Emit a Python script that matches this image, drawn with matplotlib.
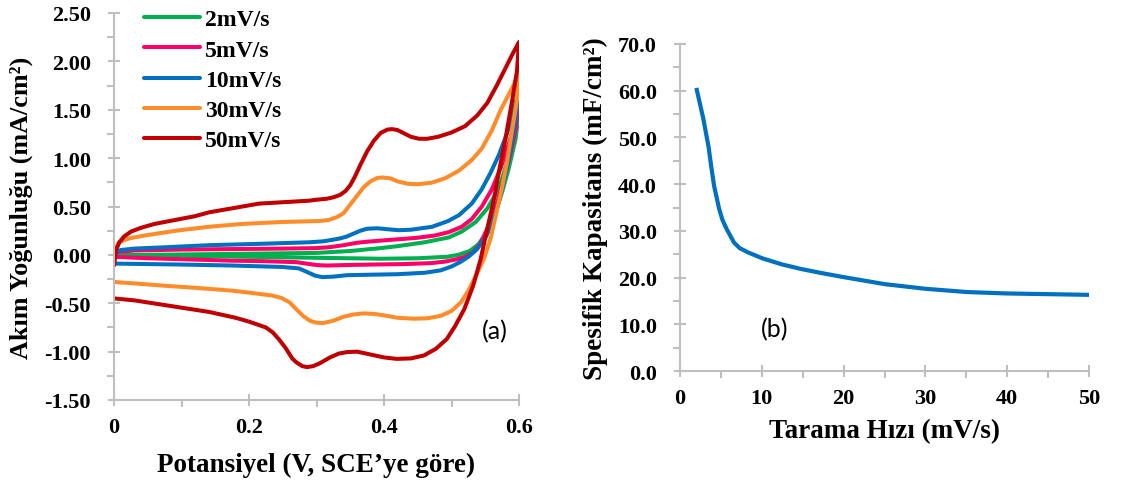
import matplotlib
matplotlib.use("Agg")
import matplotlib.pyplot as plt
from matplotlib.ticker import MultipleLocator, FuncFormatter

plt.rcParams['font.family'] = ['Liberation Serif', 'DejaVu Serif']
plt.rcParams['font.weight'] = 'bold'

# ---------------- data: panel (a) cyclic voltammograms ----------------
scan_labels = ['2mV/s', '5mV/s', '10mV/s', '30mV/s', '50mV/s']
colors = ['#00B050', '#FF0066', '#0070C0', '#FF8C2A', '#C00000']

# 2 mV/s (anodic sweep then cathodic sweep)
e_2 = [0.0, 0.05, 0.175, 0.3, 0.35, 0.395, 0.42, 0.46, 0.496, 0.515, 0.536, 0.553, 0.57,
       0.582, 0.592, 0.6,
       0.595, 0.585, 0.575, 0.565, 0.553, 0.54, 0.527, 0.51, 0.493, 0.45, 0.395, 0.35,
       0.296, 0.2, 0.1, 0.0]
i_2 = [-0.01, 0.0, 0.01, 0.02, 0.04, 0.07, 0.09, 0.13, 0.18, 0.24, 0.34, 0.48, 0.68,
       0.95, 1.2, 1.50,
       1.2, 0.9, 0.65, 0.43, 0.24, 0.11, 0.04, 0.0, -0.02, -0.035, -0.04, -0.035,
       -0.03, -0.02, -0.01, 0.0]

# 5 mV/s
e_5 = [0.0, 0.005, 0.03, 0.1, 0.175, 0.25, 0.3, 0.32, 0.34, 0.36, 0.373, 0.4, 0.447, 0.475,
       0.496, 0.515, 0.53, 0.545, 0.56, 0.573, 0.585, 0.593, 0.6,
       0.595, 0.585, 0.575, 0.565, 0.553, 0.543, 0.533, 0.52, 0.508, 0.49, 0.47, 0.43, 0.38,
       0.345, 0.315, 0.3, 0.285, 0.27, 0.22, 0.175, 0.1, 0.05, 0.0]
i_5 = [0.0, 0.03, 0.045, 0.055, 0.06, 0.065, 0.07, 0.08, 0.10, 0.125, 0.135, 0.15, 0.175, 0.2,
       0.235, 0.29, 0.37, 0.5, 0.68, 0.9, 1.15, 1.35, 1.62,
       1.3, 0.98, 0.72, 0.48, 0.27, 0.12, 0.03, -0.02, -0.045, -0.07, -0.085, -0.095, -0.10,
       -0.105, -0.11, -0.105, -0.09, -0.075, -0.065, -0.06, -0.045, -0.035, -0.02]

# 10 mV/s
e_10 = [0.0, 0.003, 0.01, 0.03, 0.08, 0.14, 0.22, 0.289, 0.31, 0.323, 0.335, 0.345, 0.355,
        0.365, 0.375, 0.39, 0.405, 0.422, 0.44, 0.471, 0.495, 0.511, 0.53, 0.545, 0.558,
        0.57, 0.582, 0.59, 0.6,
        0.595, 0.585, 0.575, 0.565, 0.552, 0.538, 0.525, 0.514, 0.5, 0.484, 0.46, 0.419,
        0.38, 0.345, 0.325, 0.309, 0.298, 0.287, 0.274, 0.25, 0.175, 0.1, 0.05, 0.0]
i_10 = [-0.06, 0.02, 0.05, 0.065, 0.08, 0.10, 0.115, 0.13, 0.14, 0.155, 0.17, 0.19, 0.22,
        0.25, 0.27, 0.275, 0.265, 0.255, 0.26, 0.29, 0.35, 0.41, 0.53, 0.68, 0.85,
        1.03, 1.25, 1.42, 1.72,
        1.4, 1.0, 0.68, 0.42, 0.2, 0.06, -0.02, -0.07, -0.12, -0.16, -0.185, -0.20,
        -0.205, -0.21, -0.225, -0.23, -0.215, -0.18, -0.14, -0.125, -0.11, -0.10, -0.095, -0.09]

# 30 mV/s
e_30 = [0.0, 0.003, 0.007, 0.022, 0.045, 0.092, 0.14, 0.19, 0.25, 0.304, 0.318, 0.33, 0.34,
        0.35, 0.36, 0.37, 0.38, 0.39, 0.398, 0.41, 0.42, 0.435, 0.45, 0.47, 0.49, 0.511,
        0.53, 0.545, 0.56, 0.573, 0.585, 0.593, 0.6,
        0.597, 0.59, 0.582, 0.575, 0.566, 0.558, 0.548, 0.538, 0.525, 0.514, 0.5, 0.484,
        0.465, 0.444, 0.42, 0.4, 0.385, 0.37, 0.355, 0.34, 0.325, 0.31, 0.299, 0.29, 0.28,
        0.27, 0.26, 0.248, 0.234, 0.2, 0.175, 0.12, 0.077, 0.03, 0.0]
i_30 = [0.0, 0.07, 0.13, 0.17, 0.20, 0.25, 0.29, 0.32, 0.34, 0.35, 0.36, 0.39, 0.43,
        0.52, 0.61, 0.70, 0.76, 0.795, 0.80, 0.79, 0.76, 0.735, 0.73, 0.745, 0.79, 0.87,
        0.98, 1.10, 1.29, 1.50, 1.66, 1.77, 1.90,
        1.6, 1.3, 0.95, 0.7, 0.42, 0.17, -0.04, -0.19, -0.37, -0.49, -0.58, -0.63,
        -0.655, -0.66, -0.65, -0.625, -0.61, -0.605, -0.615, -0.64, -0.68, -0.705, -0.70,
        -0.68, -0.63, -0.56, -0.49, -0.445, -0.42, -0.39, -0.37, -0.34, -0.32, -0.295, -0.28]

# 50 mV/s
e_50 = [0.0, 0.003, 0.008, 0.015, 0.025, 0.04, 0.06, 0.09, 0.12, 0.141, 0.215, 0.289, 0.3,
        0.315, 0.325, 0.335, 0.343, 0.35, 0.357, 0.365, 0.375, 0.385, 0.395, 0.405, 0.412,
        0.42, 0.43, 0.44, 0.452, 0.464, 0.48, 0.5, 0.52, 0.538, 0.553, 0.567, 0.58, 0.59, 0.6,
        0.597, 0.59, 0.58, 0.57, 0.563, 0.553, 0.543, 0.532, 0.519, 0.505, 0.493, 0.477,
        0.459, 0.44, 0.419, 0.4, 0.38, 0.36, 0.345, 0.333, 0.32, 0.305, 0.295, 0.286,
        0.279, 0.27, 0.264, 0.254, 0.244, 0.235, 0.225, 0.2, 0.18, 0.141, 0.067, 0.03, 0.0]
i_50 = [-0.11, 0.05, 0.13, 0.19, 0.24, 0.28, 0.32, 0.36, 0.40, 0.44, 0.53, 0.56, 0.57,
        0.58, 0.595, 0.62, 0.66, 0.72, 0.81, 0.93, 1.07, 1.18, 1.26, 1.295, 1.30,
        1.29, 1.255, 1.22, 1.20, 1.20, 1.22, 1.265, 1.33, 1.44, 1.57, 1.75, 1.93, 2.07, 2.2,
        1.9, 1.6, 1.2, 0.85, 0.58, 0.27, -0.05, -0.32, -0.56, -0.74, -0.87, -0.97,
        -1.04, -1.07, -1.075, -1.06, -1.03, -1.0, -1.005, -1.02, -1.06, -1.12, -1.15, -1.16,
        -1.15, -1.11, -1.07, -0.96, -0.87, -0.80, -0.75, -0.69, -0.65, -0.59, -0.51, -0.47, -0.45]

potentials = [e_2, e_5, e_10, e_30, e_50]
currents = [i_2, i_5, i_10, i_30, i_50]

# ---------------- data: panel (b) specific capacitance ----------------
scan_rate = [2.0, 2.4, 2.85, 3.5, 3.8, 4.17, 4.8, 5.2, 5.7, 6.6, 7.3, 8.3, 10.1, 12.5,
             14.9, 17.5, 20.0, 25.0, 30.0, 35.1, 39.9, 45.0, 50.0]
capacitance = [60.6, 57.5, 54.0, 47.9, 44.0, 39.6, 34.6, 32.3, 30.4, 27.5, 26.3, 25.4,
               24.1, 22.8, 21.8, 20.9, 20.1, 18.6, 17.6, 16.9, 16.6, 16.45, 16.3]

# ---------------- figure ----------------
W, H = 1121, 485
fig = plt.figure(figsize=(W / 100, H / 100), dpi=100)

def px_axes(x0, y0, x1, y1):
    return fig.add_axes([x0 / W, 1 - y1 / H, (x1 - x0) / W, (y1 - y0) / H])

ax1 = px_axes(114, 14, 519, 401)
ax2 = px_axes(680, 45, 1089, 372)

spine_col = '#BFBFBF'
tick_fs = 16
label_fs = 19.5

for ax in (ax1, ax2):
    for s in ('top', 'right'):
        ax.spines[s].set_visible(False)
    for s in ('left', 'bottom'):
        ax.spines[s].set_color(spine_col)
        ax.spines[s].set_linewidth(1.5)
    ax.tick_params(which='major', direction='inout', length=9, width=1.5,
                   color=spine_col, labelsize=tick_fs, labelcolor='black')
    ax.tick_params(which='minor', direction='out', length=5, width=1.5,
                   color=spine_col)
    ax.tick_params(axis='y', which='major', pad=12)
    ax.tick_params(axis='x', which='major', pad=8)

# panel (a)
for e, i, c, lab in zip(potentials, currents, colors, scan_labels):
    ax1.plot(e, i, color=c, lw=2.9, label=lab, solid_capstyle='round',
             solid_joinstyle='round')

ax1.set_xlim(0, 0.6)
ax1.set_ylim(-1.5, 2.5)
ax1.xaxis.set_major_locator(MultipleLocator(0.2))
ax1.xaxis.set_minor_locator(MultipleLocator(0.1))
ax1.yaxis.set_major_locator(MultipleLocator(0.5))
ax1.yaxis.set_minor_locator(MultipleLocator(0.25))
ax1.xaxis.set_major_formatter(FuncFormatter(lambda v, p: '0' if abs(v) < 1e-9 else f'{v:.1f}'))
ax1.yaxis.set_major_formatter(FuncFormatter(lambda v, p: f'{v:.2f}'))
ax1.set_xlabel('Potansiyel (V, SCE’ye göre)', fontsize=label_fs, fontweight='bold')
ax1.set_ylabel('Akım Yoğunluğu (mA/cm²)', fontsize=18.8, fontweight='bold')
ax1.xaxis.set_label_coords(0.5, -0.135)
ax1.yaxis.set_label_coords(-0.2, 0.5)
ax1.text((495 - 114) / 405, (401 - 332) / 387, '(a)', transform=ax1.transAxes,
         fontsize=18, fontweight='normal', family=['Lato', 'DejaVu Sans'],
         ha='center', va='center')
leg = ax1.legend(loc='upper left', bbox_to_anchor=(0.05, 1.035), frameon=False,
                 fontsize=17, handlelength=2.4, handletextpad=0.2,
                 labelspacing=0.37, borderaxespad=0)

# panel (b)
ax2.plot(scan_rate, capacitance, color='#0070C0', lw=3.0, solid_capstyle='butt',
         solid_joinstyle='round')
ax2.set_xlim(0, 50)
ax2.set_ylim(0, 70)
ax2.xaxis.set_major_locator(MultipleLocator(10))
ax2.xaxis.set_minor_locator(MultipleLocator(5))
ax2.yaxis.set_major_locator(MultipleLocator(10))
ax2.yaxis.set_minor_locator(MultipleLocator(5))
ax2.yaxis.set_major_formatter(FuncFormatter(lambda v, p: f'{v:.1f}'))
ax2.xaxis.set_major_formatter(FuncFormatter(lambda v, p: f'{v:.0f}'))
ax2.set_xlabel('Tarama Hızı (mV/s)', fontsize=label_fs, fontweight='bold')
ax2.set_ylabel('Spesifik Kapasitans (mF/cm²)', fontsize=label_fs, fontweight='bold')
ax2.xaxis.set_label_coords(0.5, -0.145)
ax2.yaxis.set_label_coords(-0.176, 0.5)
ax2.text((775 - 680) / 409, (372 - 330) / 327, '(b)', transform=ax2.transAxes,
         fontsize=18, fontweight='normal', family=['Lato', 'DejaVu Sans'],
         ha='center', va='center')

fig.savefig('out.png', dpi=100)
